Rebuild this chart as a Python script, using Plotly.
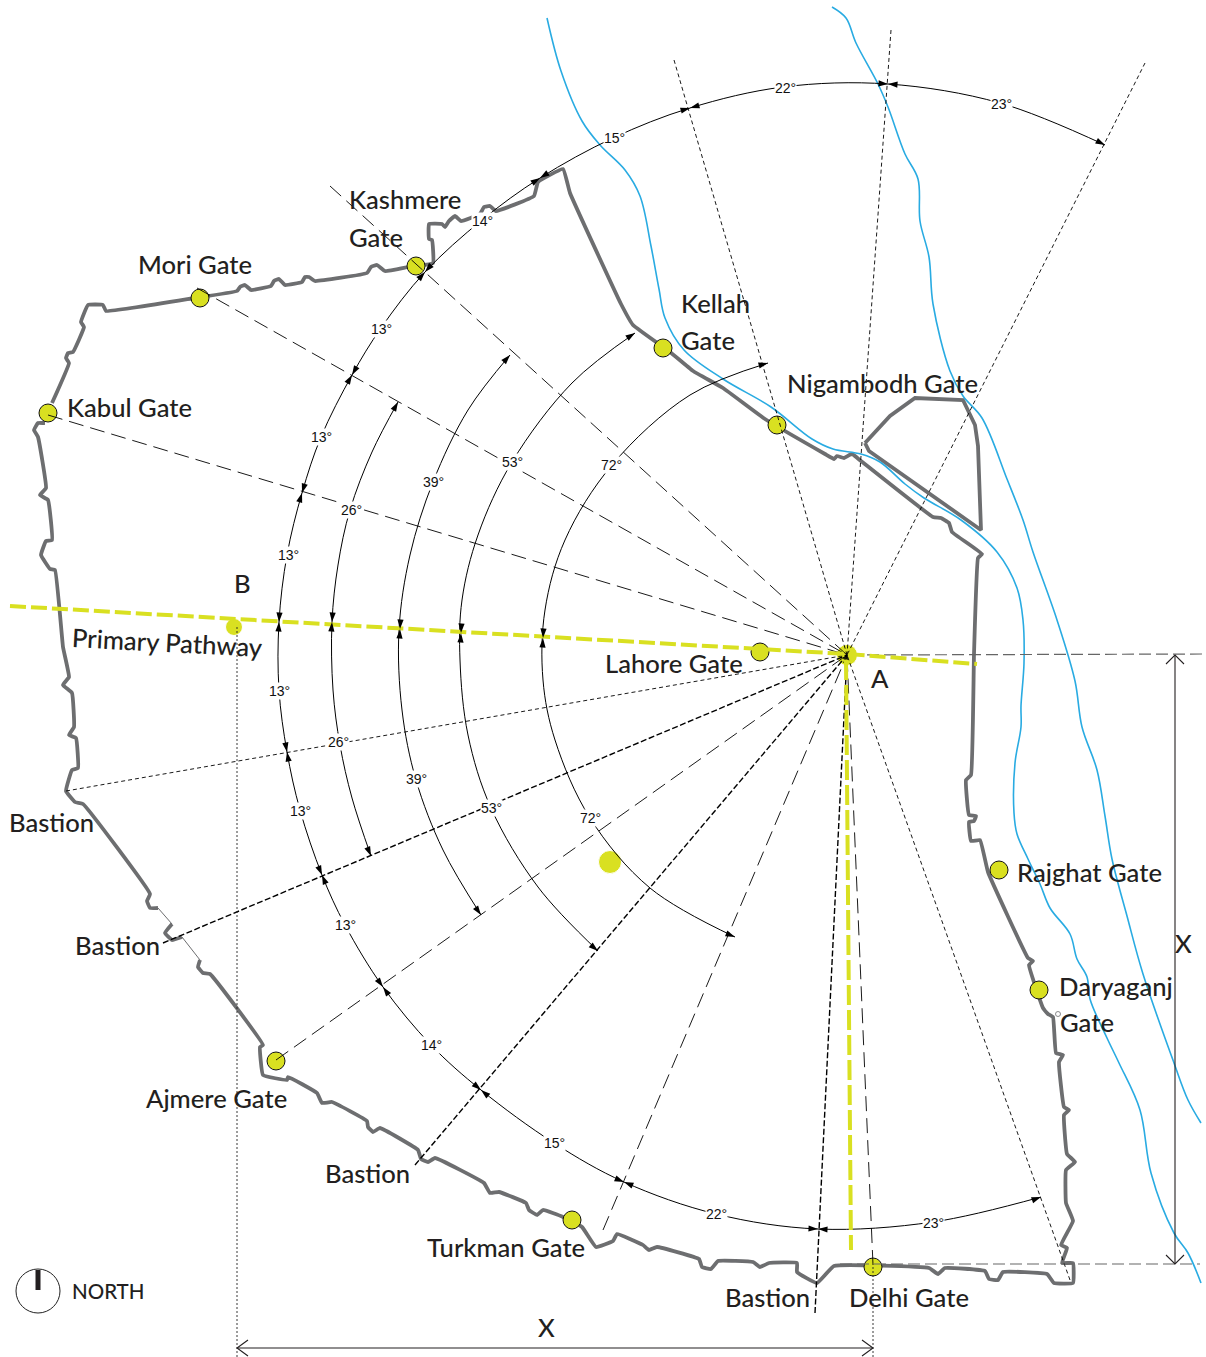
import plotly.graph_objects as go

# ---------- map outline ----------
WALL_MAIN = [(45,423),(38,423),(34,430),(38,437),(46,488),(40,495),(48,500),(52,540),(46,541),(41,555),(50,569),(55,570),
 (63,647),(69,677),(63,685),(72,693),(74,727),(69,735),(76,738),(78,768),(72,770),(66,791),(75,802),(83,804),
 (150,894),(147,901),(150,908),(158,908)]
WALL_THIN_A = [(158,908),(172,924)]
WALL_MID = [(172,924),(165,933),(172,940),(182,937)]
WALL_THIN_B = [(182,937),(200,960)]
WALL_LOWER = [(200,960),(198,967),(203,973),(210,974),(263,1045),(260,1047),(263,1075),(287,1080),(288,1077),
 (317,1093),(322,1103),(332,1102),(367,1121),(368,1127),(373,1132),(380,1128),(418,1150),(421,1159),(428,1162),(435,1158),
 (484,1183),(490,1193),(499,1192),(526,1203),(529,1210),(537,1215),(543,1210),(563,1217),(582,1227),(596,1247),(613,1241),(617,1234),
 (643,1245),(649,1250),(657,1247),(699,1259),(702,1267),(711,1269),(718,1261),(753,1262),(760,1267),(769,1263),(797,1263),(797,1272),
 (817,1283),(834,1266),(929,1268),(938,1274),(945,1268),(985,1271),(989,1279),(998,1280),(1003,1272),(1047,1274),(1054,1283),
 (1073,1283),(1073,1263),(1062,1263),(1067,1248),(1061,1245),(1073,1221),(1066,1203),(1066,1170),(1075,1162),(1067,1154),
 (1064,1115),(1069,1110),(1064,1107),(1059,1062),(1063,1055),(1056,1053),(1053,1017),(1048,1014),(1043,1008),(1029,965),(1033,961),
 (1028,958),(988,872),(980,840),(971,841),(969,822),(974,821),(976,816),(969,815),(966,780),(971,775),(974,654),(978,558),(982,554),
 (952,532),(949,523),(941,518),(933,517),(861,461),(852,454),(844,458),(837,456),(834,459),(825,454),(765,419),(723,388),(693,371),
 (670,352),(633,325),(621,304),(570,193),(563,169),(538,182),(534,196),(496,211),(490,206),(484,207),(480,214),(461,221),(455,216),
 (449,221),(445,227),(442,224),(429,224),(429,239),(432,240),(433,263),(408,267),(385,271),(377,265),(371,267),(367,273),(315,281),
 (309,277),(305,277),(302,282),(285,285),(279,279),(274,281),(271,286),(251,290),(245,285),(240,287),(237,291),(195,298),(106,311),
 (103,305),(88,305),(81,322),(84,327),(73,352),(68,353),(66,358),(69,363),(52,403)]
TOWER = [(865,443),(890,416),(915,398),(963,400),(975,425),(978,446),(981,530),(869,451),(865,443)]

RIVER_WEST = [(547,18),(561,71),(582,121),(600,145),(625,170),(640,196),(651,246),(659,289),(665,318),(684,350),(723,379),(771,407),
 (812,439),(833,449),(861,454),(880,462),(905,484),(924,498),(961,520),(997,552),(1017,588),(1023,620),(1024,663),(1021,706),(1021,727),
 (1015,763),(1014,813),(1017,834),(1028,859),(1040,884),(1050,908),(1070,934),(1077,959),(1087,977),(1090,999),(1107,1038),(1119,1063),
 (1140,1110),(1151,1173),(1174,1233),(1188,1253),(1201,1283)]
RIVER_EAST = [(832,7),(846,18),(856,43),(878,84),(888,107),(905,154),(918,179),(920,221),(929,257),(933,304),(950,371),(963,396),(982,418),
 (1007,479),(1023,520),(1033,552),(1057,620),(1075,681),(1082,727),(1097,770),(1105,816),(1112,859),(1127,916),(1143,974),(1174,1063),
 (1188,1100),(1201,1123)]

# ---------- sight lines from point A ----------
POINT_A = (847, 655)
RAYS_FINE = [(1145,63),(891,30),(674,60),(66,791),(1070,1280)]
RAYS_LONG = [(330,186),(197,288),(48,415),(276,1060),(603,1230),(873,1265)]
RAYS_HEAVY = [(163,943),(415,1165),(815,1313)]
PATHWAY_WEST = [(10,606),(847,654),(977,664)]
PATHWAY_SOUTH = [(846,660),(851,1250)]
GUIDE_DOTTED = [[(237,627),(237,1357)],[(873,1267),(873,1357)]]
GUIDE_GREY = [[(850,655),(1206,654)],[(840,1264),(1200,1264)]]
DIM_LINES = [[(237,1348),(873,1348)],[(1175,655),(1175,1264)]]
DIM_HEADS = [[(248,1340),(237,1348),(248,1356)],[(862,1340),(873,1348),(862,1356)],
             [(1166,664),(1175,655),(1184,664)],[(1166,1255),(1175,1264),(1184,1255)]]

# ---------- angle arcs ----------
ARC_OUTER = [(1105,145),(1000,103),(888,84),(783,87),(690,108),(613,138),(540,178),(482,220),(425,272),(381,328),(352,375),(321,437),
 (302,493),(287,555),(279,622),(279,690),(287,752),(300,810),(322,875),(345,925),(383,987),(431,1045),(481,1090),(554,1143),(624,1182),
 (716,1214),(818,1229),(933,1222),(1041,1197)]
ARC_26 = [(398,402),(372,452),(350,510),(338,565),(332,622),(333,690),(340,745),(352,798),(371,856)]
ARC_39 = [(510,355),(468,410),(433,482),(410,555),(399,630),(402,710),(416,780),(443,850),(481,915)]
ARC_53 = [(635,333),(572,383),(512,462),(478,535),(462,600),(460,660),(468,735),(491,808),(538,887),(598,951)]
ARC_72 = [(768,363),(690,395),(612,465),(565,540),(545,610),(543,680),(555,740),(590,818),(650,888),(735,937)]

# arrow tips: x, y, heading in degrees clockwise from north
ARROW_TIPS = [(1105,145,117),(888,84,-86),(888,84,94),(690,108,-106),(690,108,74),(540,178,-123),(540,178,57),(425,272,-138),(425,272,42),
 (352,375,-150),(352,375,30),(302,493,-163),(302,493,17),(279,622,-177),(279,622,3),(287,752,-190),(287,752,-10),(322,875,-203),(322,875,-23),
 (383,987,-216),(383,987,-36),(481,1090,-230),(481,1090,-50),(624,1182,-247),(624,1182,-67),(818,1229,-267),(818,1229,-87),(1041,1197,70),
 (398,402,29),(371,856,-203),(332,622,-176),(332,622,4),
 (510,355,42),(481,915,-215),(400,629,-177),(400,629,3),
 (635,333,57),(598,951,-230),(461,633,-177),(461,633,3),
 (768,363,75),(735,937,-248),(543,638,-177),(543,638,3)]

DEG_TEXT = ["23°","22°","15°","14°","13°","13°","13°","13°","13°","13°","14°","15°","22°","23°","26°","26°","39°","39°","53°","53°","72°","72°"]
DEG_X = [1001,785,614,482,381,321,288,279,300,345,431,554,716,933,351,338,433,416,512,491,611,590]
DEG_Y = [104,88,138,221,329,437,555,691,811,925,1045,1143,1214,1223,510,742,482,779,462,808,465,818]

# ---------- gates ----------
GATE_X = [48,200,416,663,777,760,999,1039,873,572,276]
GATE_Y = [413,298,266,348,425,652,870,990,1267,1220,1061]
SPOT_X = [234,610,847]
SPOT_Y = [627,862,655]
SPOT_SIZE = [17,23,21]

LABEL_TEXT = ["Kashmere","Gate","Mori Gate","Kabul Gate","Kellah","Gate","Nigambodh Gate","B","Lahore Gate","A","Bastion","Bastion",
 "Ajmere Gate","Bastion","Turkman Gate","Bastion","Delhi Gate","Rajghat Gate","Daryaganj","Gate","X","X"]
LABEL_X = [347,347,136,65,679,679,785,232,603,869,7,73,144,323,425,723,847,1015,1057,1058,536,1173]
LABEL_Y = [199,237,264,407,303,340,383,583,663,678,822,945,1098,1173,1247,1297,1297,872,986,1022,1327,943]

INK = "#231f20"; WALL = "#6d6e70"; YELLOW = "#d9e021"; BLUE = "#29abe2"

fig = go.Figure()

def path(pts, color, width, dash="solid", shape="linear", smoothing=1.0):
    fig.add_trace(go.Scatter(x=[p[0] for p in pts], y=[p[1] for p in pts], mode="lines", hoverinfo="skip",
                             line=dict(color=color, width=width, dash=dash, shape=shape,
                                       smoothing=smoothing if shape == "spline" else None)))

for seg in (WALL_MAIN, WALL_MID, WALL_LOWER):
    path(seg, WALL, 3.8, shape="spline", smoothing=0.3)
path(TOWER, WALL, 3.8)
for seg in (WALL_THIN_A, WALL_THIN_B):
    path(seg, WALL, 1)
for riv in (RIVER_WEST, RIVER_EAST):
    path(riv, BLUE, 1.6, shape="spline")

fig.add_trace(go.Scatter(x=GATE_X, y=GATE_Y, mode="markers", hoverinfo="skip",
                         marker=dict(color=YELLOW, size=18, opacity=1, line=dict(color="#111", width=1))))
fig.add_trace(go.Scatter(x=SPOT_X, y=SPOT_Y, mode="markers", hoverinfo="skip",
                         marker=dict(color=YELLOW, size=SPOT_SIZE, opacity=1, sizemode="diameter")))
fig.add_trace(go.Scatter(x=[1058], y=[1014], mode="markers", hoverinfo="skip",
                         marker=dict(color="white", size=5, opacity=1, line=dict(color=WALL, width=0.8))))

for end in RAYS_FINE:
    path([end, POINT_A], "#000", 0.9, dash="4px,3px")
for end in RAYS_LONG:
    path([end, POINT_A], "#000", 0.9, dash="15px,7px")
for end in RAYS_HEAVY:
    path([end, POINT_A], "#000", 1.4, dash="6px,2.5px")
for seg in GUIDE_DOTTED:
    path(seg, "#222", 0.9, dash="2px,2px")
for seg in GUIDE_GREY:
    path(seg, "#666", 1.2, dash="12px,5px")
for seg in DIM_LINES + DIM_HEADS:
    path(seg, INK, 1.1)

for arc in (ARC_OUTER, ARC_26, ARC_39, ARC_53, ARC_72):
    path(arc, "#000", 1.0, shape="spline")

path(PATHWAY_WEST, YELLOW, 4, dash="16px,5px")
path(PATHWAY_SOUTH, YELLOW, 4, dash="20px,5px")

fig.add_trace(go.Scatter(x=[a[0] for a in ARROW_TIPS], y=[a[1] for a in ARROW_TIPS], mode="markers", hoverinfo="skip",
                         marker=dict(symbol="arrow", size=10, opacity=1, color="#000", angle=[a[2] for a in ARROW_TIPS], line=dict(width=0))))

# north compass
fig.add_trace(go.Scatter(x=[38], y=[1291], mode="markers", hoverinfo="skip",
                         marker=dict(symbol="circle-open", size=44, opacity=1, color="#222", line=dict(color="#222", width=1))))
path([(38,1270),(38,1290)], INK, 5)

for t, x, y in zip(LABEL_TEXT, LABEL_X, LABEL_Y):
    fig.add_annotation(x=x, y=y, text=t, showarrow=False, xanchor="left", yanchor="middle",
                       font=dict(family="Lato", size=25.6, color=INK, weight=500))
fig.add_annotation(x=167, y=642, text="Primary Pathway", showarrow=False, textangle=3,
                   font=dict(family="Lato", size=25.6, color=INK, weight=500))
fig.add_annotation(x=70, y=1291, text="NORTH", showarrow=False, xanchor="left",
                   font=dict(family="Lato", size=20.5, color=INK, weight=500))
for t, x, y in zip(DEG_TEXT, DEG_X, DEG_Y):
    fig.add_annotation(x=x, y=y, text=t, showarrow=False, bgcolor="white", borderpad=0,
                       font=dict(family="Liberation Sans", size=14, color="#111"))

fig.update_layout(width=1206, height=1357, margin=dict(l=0, r=0, t=0, b=0), showlegend=False,
                  plot_bgcolor="white", paper_bgcolor="white",
                  xaxis=dict(range=[0, 1206], visible=False, fixedrange=True),
                  yaxis=dict(range=[1357, 0], visible=False, fixedrange=True))
fig.write_html("out.html", config=dict(displayModeBar=False),
               post_script="document.body.style.margin='0';document.body.style.overflow='hidden';")
